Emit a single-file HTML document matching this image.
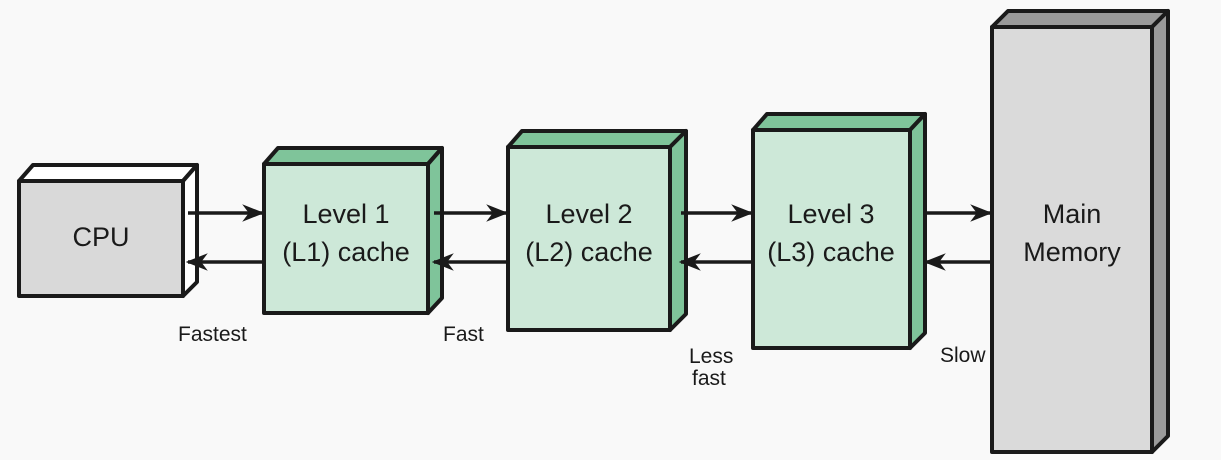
<!DOCTYPE html>
<html><head><meta charset="utf-8"><style>
html,body{margin:0;padding:0;background:#f9f9f9;}
svg{display:block}
text{font-family:"Liberation Sans","DejaVu Sans",sans-serif;fill:#1a1a1a}
</style></head><body>
<svg width="1221" height="460" viewBox="0 0 1221 460">
<defs>
<marker id="ah" viewBox="0 0 20 16" refX="18" refY="8" markerWidth="22" markerHeight="18" markerUnits="userSpaceOnUse" orient="auto">
<path d="M0,0 L20,8 L0,16 L6,8 Z" fill="#1a1a1a"/>
</marker>
</defs>
<rect width="1221" height="460" fill="#f9f9f9"/>
<g stroke="#1a1a1a" stroke-width="4" stroke-linejoin="round">
<polygon points="19,181 33,165 197,165 183,181" fill="#ffffff"/>
<polygon points="183,181 197,165 197,282 183,296" fill="#ffffff"/>
<rect x="19" y="181" width="164" height="115" fill="#d9d9d9"/>
<polygon points="264,164 278,148 442,148 428,164" fill="#7fc49a"/>
<polygon points="428,164 442,148 442,298 428,313" fill="#7fc49a"/>
<rect x="264" y="164" width="164" height="149" fill="#cde8d8"/>
<polygon points="508,147 522,131 686,131 670,147" fill="#7fc49a"/>
<polygon points="670,147 686,131 686,314 670,330" fill="#7fc49a"/>
<rect x="508" y="147" width="162" height="183" fill="#cde8d8"/>
<polygon points="753,130 767,114 925,114 910,130" fill="#7fc49a"/>
<polygon points="910,130 925,114 925,333 910,348" fill="#7fc49a"/>
<rect x="753" y="130" width="157" height="218" fill="#cde8d8"/>
<polygon points="992,27 1008,11 1168,11 1152,27" fill="#9a9a9a"/>
<polygon points="1152,27 1168,11 1168,436 1152,452" fill="#9a9a9a"/>
<rect x="992" y="27" width="160" height="425" fill="#dadada"/>
</g>
<g stroke="#1a1a1a" stroke-width="3.5" fill="none">
<line x1="188" y1="213" x2="262" y2="213" marker-end="url(#ah)"/>
<line x1="262" y1="262" x2="188" y2="262" marker-end="url(#ah)"/>
<line x1="434" y1="213" x2="506" y2="213" marker-end="url(#ah)"/>
<line x1="506" y1="262" x2="434" y2="262" marker-end="url(#ah)"/>
<line x1="681" y1="213" x2="751" y2="213" marker-end="url(#ah)"/>
<line x1="751" y1="262" x2="681" y2="262" marker-end="url(#ah)"/>
<line x1="926" y1="213" x2="990" y2="213" marker-end="url(#ah)"/>
<line x1="990" y1="262" x2="926" y2="262" marker-end="url(#ah)"/>
</g>
<g font-size="27" text-anchor="middle">
<text x="101" y="246">CPU</text>
<text x="346" y="223">Level 1</text>
<text x="346" y="261">(L1) cache</text>
<text x="589" y="223">Level 2</text>
<text x="589" y="261">(L2) cache</text>
<text x="831" y="223">Level 3</text>
<text x="831" y="261">(L3) cache</text>
<text x="1072" y="223">Main</text>
<text x="1072" y="261">Memory</text>
</g>
<g font-size="21">
<text x="178" y="341">Fastest</text>
<text x="443" y="341">Fast</text>
<text x="689" y="363">Less</text>
<text x="692" y="385">fast</text>
<text x="940" y="362">Slow</text>
</g>
</svg>
</body></html>
